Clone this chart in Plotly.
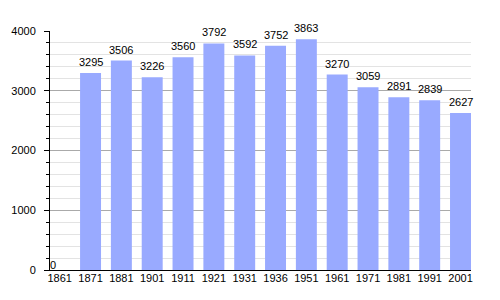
import plotly.graph_objects as go

years = ["1861", "1871", "1881", "1901", "1911", "1921", "1931", "1936",
         "1951", "1961", "1971", "1981", "1991", "2001"]
population = [0, 3295, 3506, 3226, 3560, 3792, 3592, 3752, 3863, 3270, 3059, 2891, 2839, 2627]
y_ticks = [0, 1000, 2000, 3000, 4000]

FONT = "Liberation Sans, Arial, sans-serif"

fig = go.Figure()
fig.add_trace(go.Bar(x=years, y=population, marker=dict(color="#99aaff", line=dict(width=0)),
                     hoverinfo="x+y"))

for i, v in enumerate(population):
    fig.add_annotation(x=i, y=v, xref="x", yref="y", text=str(v), showarrow=False,
                       yanchor="bottom", xanchor="center",
                       yshift=4 if v else -2, xshift=0 if v else -7,
                       borderpad=0, font=dict(family=FONT, size=11, color="black"))

fig.update_layout(
    width=500, height=300,
    margin=dict(l=50, r=29, t=31, b=30),
    paper_bgcolor="white", plot_bgcolor="white",
    bargap=0.32, showlegend=False,
    font=dict(family=FONT, size=11, color="black"),
)
fig.update_xaxes(type="category", range=[-0.315, 13.34], showline=True, linecolor="black",
                 linewidth=1, ticks="", showgrid=False, tickfont=dict(size=11),
                 ticklabelstandoff=-2, fixedrange=True)
fig.update_yaxes(range=[0, 4000], tickvals=y_ticks, showline=True, linecolor="black",
                 linewidth=1, ticks="outside", ticklen=5, tickcolor="black",
                 showgrid=True, gridcolor="#aaaaaa", gridwidth=1, zeroline=False,
                 ticklabelstandoff=6, tickfont=dict(size=11),
                 minor=dict(dtick=200, ticks="outside", ticklen=3, tickcolor="black",
                            showgrid=True, gridcolor="#e3e3e3", gridwidth=1))

fig.write_html("out.html")
